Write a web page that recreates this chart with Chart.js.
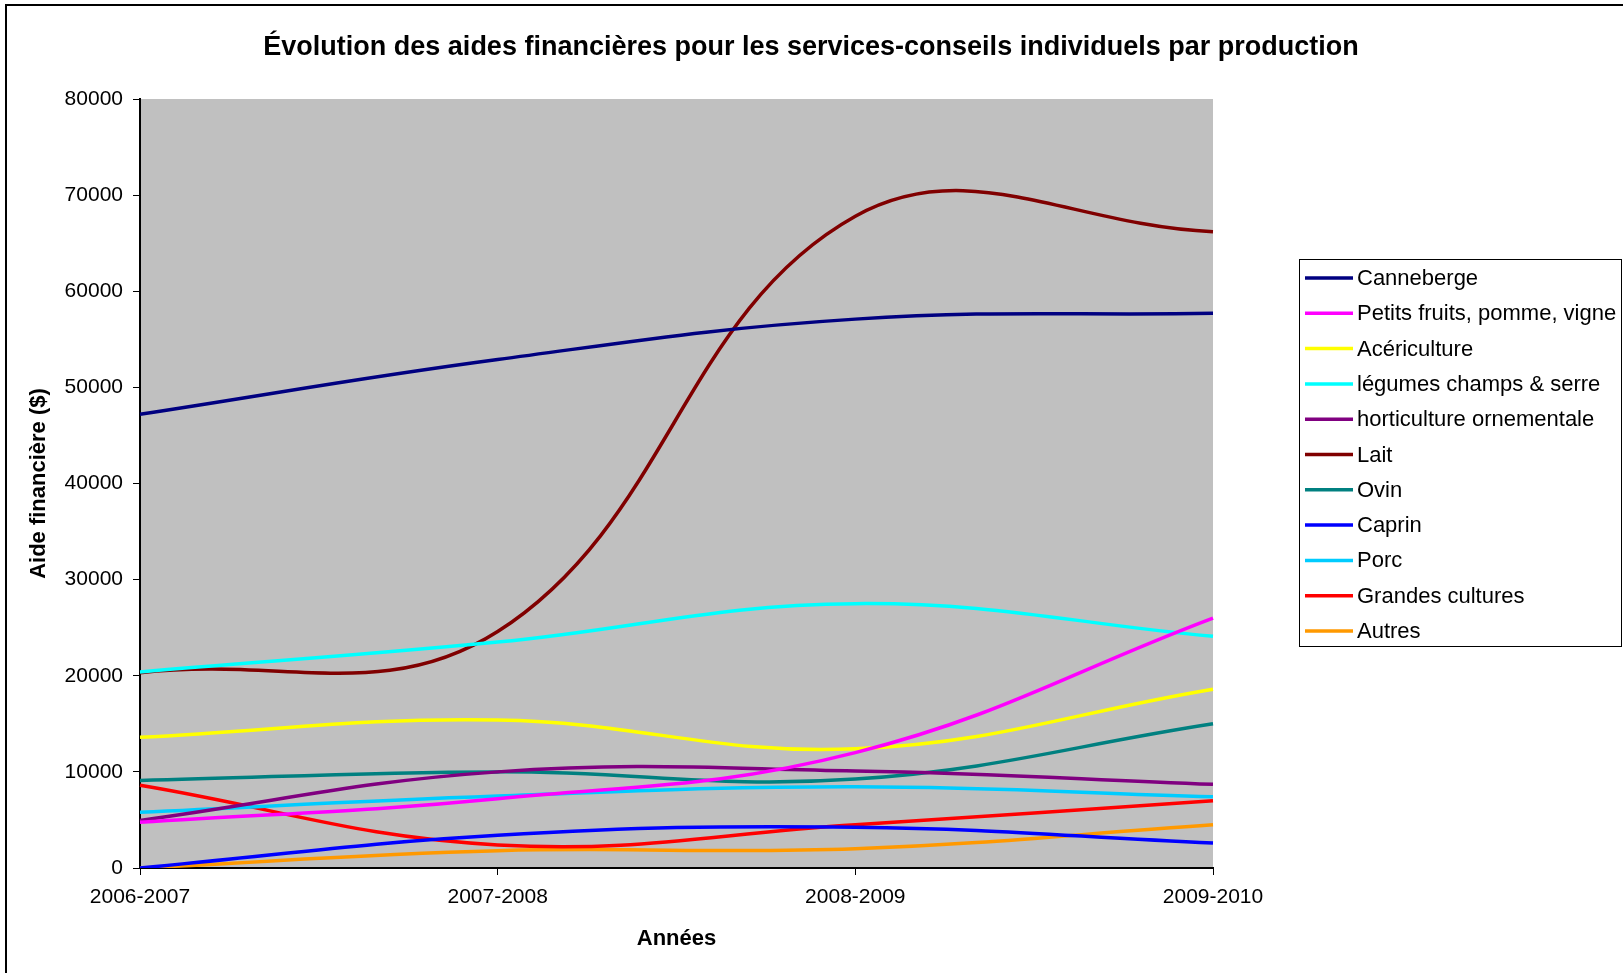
<!DOCTYPE html>
<html lang="fr">
<head>
<meta charset="utf-8">
<title>Évolution des aides financières</title>
<script src="https://cdn.jsdelivr.net/npm/chart.js@4.4.1/dist/chart.umd.min.js"></script>
<style>
  html, body { margin: 0; padding: 0; background: #fff; overflow: hidden; }
  canvas { display: block; }
</style>
</head>
<body>
<canvas id="aides" width="1623" height="973"></canvas>
<script>
const annees = ['2006-2007', '2007-2008', '2008-2009', '2009-2010'];

const canneberge = [47200, 52900, 57100, 57700];
const petitsFruits = [4750, 7200, 12000, 26000];
const acericulture = [13600, 15400, 12400, 18600];
const legumes = [20400, 23500, 27500, 24100];
const horticulture = [4950, 10000, 10100, 8700];
const lait = [20300, 24600, 67800, 66200];
const ovin = [9100, 10000, 9250, 15000];
const caprin = [0, 3400, 4250, 2600];
const porc = [5800, 7500, 8450, 7400];
const grandesCultures = [8600, 2400, 4500, 7000];
const autres = [0, 1800, 2000, 4500];

const titre = 'Évolution des aides financières pour les services-conseils individuels par production';
const police = "'Liberation Sans', Arial, sans-serif";

function serie(label, data, couleur) {
  return {
    label: label,
    data: data,
    borderColor: couleur,
    backgroundColor: couleur,
    borderWidth: 3.5,
    pointRadius: 0,
    tension: 0.4,
    fill: false
  };
}

const datasets = [
  serie('Canneberge', canneberge, '#000080'),
  serie('Petits fruits, pomme, vigne', petitsFruits, '#FF00FF'),
  serie('Acériculture', acericulture, '#FFFF00'),
  serie('légumes champs & serre', legumes, '#00FFFF'),
  serie('horticulture ornementale', horticulture, '#800080'),
  serie('Lait', lait, '#800000'),
  serie('Ovin', ovin, '#008080'),
  serie('Caprin', caprin, '#0000FF'),
  serie('Porc', porc, '#00CCFF'),
  serie('Grandes cultures', grandesCultures, '#FF0000'),
  serie('Autres', autres, '#FF9900')
];

// fond, cadre, titre et légende façon Excel
const cadreExcel = {
  id: 'cadreExcel',
  beforeDraw(chart) {
    const ctx = chart.ctx;
    const a = chart.chartArea;
    ctx.save();
    ctx.fillStyle = '#ffffff';
    ctx.fillRect(0, 0, chart.width, chart.height);
    ctx.fillStyle = '#C0C0C0';
    ctx.fillRect(a.left, a.top, a.right - a.left, a.bottom - a.top);
    ctx.strokeStyle = '#000000';
    ctx.lineWidth = 2;
    ctx.strokeRect(6, 5, chart.width + 10, chart.height + 10);
    ctx.restore();
  },
  afterDraw(chart) {
    const ctx = chart.ctx;
    ctx.save();
    ctx.fillStyle = '#000000';
    ctx.font = 'bold 27px ' + police;
    ctx.textAlign = 'center';
    ctx.textBaseline = 'middle';
    ctx.fillText(titre, 811, 48);

    // légende
    const x0 = 1299, y0 = 259, w = 322, h = 387;
    const pas = 35.3;
    ctx.strokeStyle = '#000000';
    ctx.lineWidth = 1;
    ctx.strokeRect(x0 + 0.5, y0 + 0.5, w, h);
    ctx.font = '22px ' + police;
    ctx.textAlign = 'left';
    chart.data.datasets.forEach((ds, i) => {
      const y = y0 + 19 + i * pas;
      ctx.strokeStyle = ds.borderColor;
      ctx.lineWidth = 3.5;
      ctx.beginPath();
      ctx.moveTo(x0 + 6, y);
      ctx.lineTo(x0 + 54, y);
      ctx.stroke();
      ctx.fillStyle = '#000000';
      ctx.fillText(ds.label, x0 + 58, y + 1);
    });
    ctx.restore();
  }
};

const ctx = document.getElementById('aides').getContext('2d');

new Chart(ctx, {
  type: 'line',
  data: {
    labels: annees,
    datasets: datasets
  },
  options: {
    responsive: false,
    animation: false,
    devicePixelRatio: 1,
    layout: {
      padding: { left: 0, top: 99, right: 410, bottom: 0 }
    },
    plugins: {
      legend: { display: false },
      title: { display: false },
      tooltip: { enabled: false }
    },
    scales: {
      x: {
        offset: false,
        grid: {
          display: true,
          drawOnChartArea: false,
          drawTicks: true,
          tickLength: 7,
          color: '#000000'
        },
        border: { display: true, color: '#000000', width: 2 },
        ticks: {
          color: '#000000',
          font: { family: police, size: 21 },
          padding: 10,
          maxRotation: 0,
          autoSkip: false
        },
        title: {
          display: true,
          text: 'Années',
          color: '#000000',
          font: { family: police, size: 22, weight: 'bold' },
          padding: { top: 0, bottom: 21 }
        },
        afterFit(scale) {
          scale.height = 105;
        }
      },
      y: {
        min: 0,
        max: 80000,
        grid: {
          display: true,
          drawOnChartArea: false,
          drawTicks: true,
          tickLength: 7,
          color: '#000000'
        },
        border: { display: true, color: '#000000', width: 2 },
        ticks: {
          stepSize: 10000,
          color: '#000000',
          font: { family: police, size: 21 },
          padding: 10,
          callback: v => String(v)
        },
        title: {
          display: true,
          text: 'Aide financière ($)',
          color: '#000000',
          font: { family: police, size: 22, weight: 'bold' },
          padding: { top: 26, bottom: 0 }
        },
        afterFit(scale) {
          scale.width = 140;
        }
      }
    }
  },
  plugins: [cadreExcel]
});
</script>
</body>
</html>
